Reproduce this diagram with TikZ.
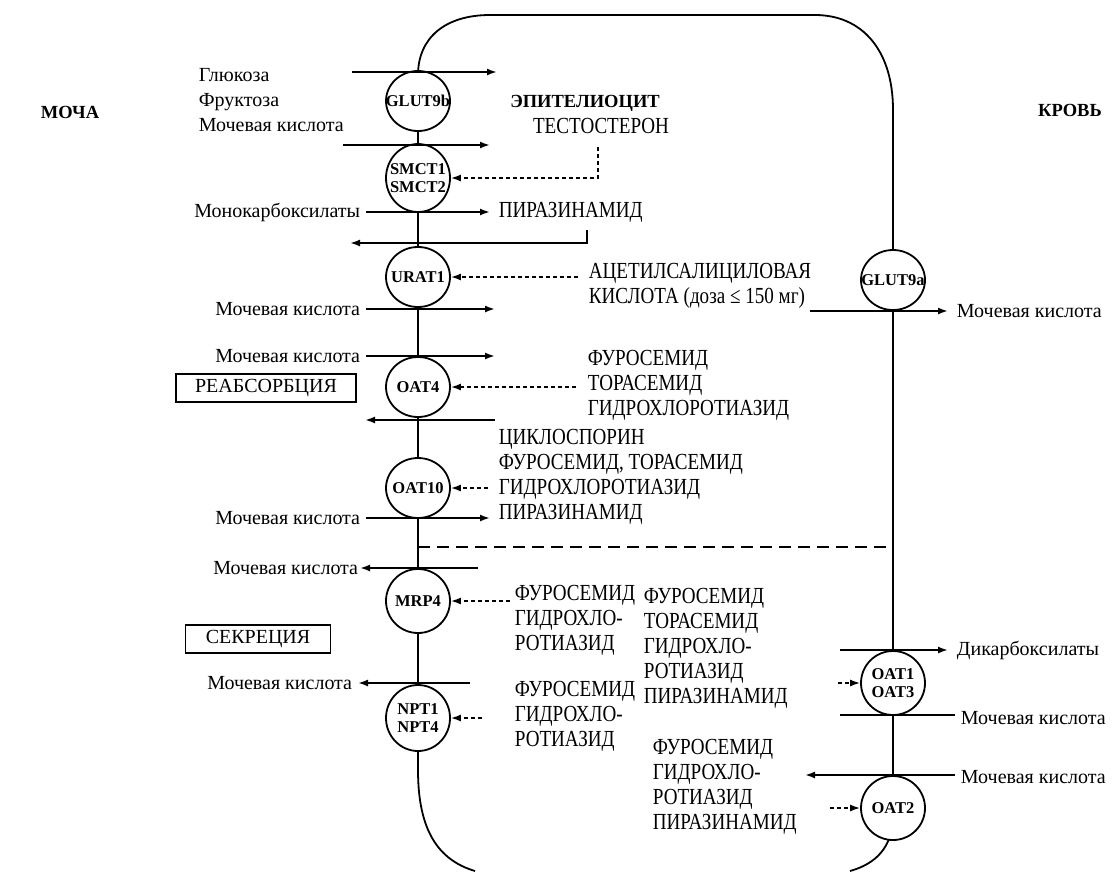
\documentclass[tikz,border=0pt]{standalone}
\usepackage{fontspec}
\setmainfont{Liberation Serif}
\newfontfamily\drugfont[FakeStretch=0.83]{Liberation Serif}
\usetikzlibrary{arrows.meta,positioning,shapes.geometric}

\begin{document}
\begin{tikzpicture}[x=1pt,y=-1pt,line width=1.8pt,>={Latex[length=10pt,width=7pt]},
		node distance=5pt,
		carrier/.style = {ellipse,draw,fill=white,inner sep=0pt,minimum width=64pt,minimum height=60pt,
			label={[font=\bfseries\fontsize{16.5}{18}\selectfont,align=center]center:{#1}}},
		flow/.style = {->},
		dash flow/.style = {->,line width=1.5pt,dash pattern=on 4pt off 3pt},
		small text/.style = {font=\fontsize{20}{25}\selectfont,inner sep=0pt},
		drug text/.style = {font=\drugfont\fontsize{23}{25}\selectfont,align=left,anchor=west,inner sep=0pt},
		side text/.style = {font=\bfseries\fontsize{18.5}{20}\selectfont},
		phase box/.style = {draw,line width=1.5pt,font=\fontsize{20}{22}\selectfont,minimum height=28pt}]
	
	\useasboundingbox (0,0) rectangle (1113,871);
	
	% cell outline
	\draw (475,871) .. controls (438,860) and (418,830) .. (418,770) -- (418,75)
	.. controls (418,38) and (445,15) .. (490,15) -- (815,15)
	.. controls (862,15) and (893,50) .. (893,110) -- (893,815)
	.. controls (893,848) and (875,864) .. (850,871);
	
	\node[side text] (urine) at (70,112) {МОЧА};
	\node[side text] (cell) at (585,103) {ЭПИТЕЛИОЦИТ};
	\node[side text] (blood) at (1070,110) {КРОВЬ};
	
	% carriers
	\node[carrier=GLUT9b] (glut9b) at (418,101) {};
	\node[carrier={SMCT1\\SMCT2},minimum height=68pt] (smct) at (418,178) {};
	\node[carrier=URAT1] (urat1) at (418,277) {};
	\node[carrier=OAT4] (oat4) at (418,387) {};
	\node[carrier=OAT10] (oat10) at (418,488) {};
	\node[carrier=MRP4,minimum height=64pt] (mrp4) at (418,601) {};
	\node[carrier={NPT1\\NPT4},minimum height=66pt] (npt) at (418,718) {};
	\node[carrier=GLUT9a] (glut9a) at (893,280) {};
	\node[carrier={OAT1\\OAT3},minimum height=64pt] (oat13) at (893,683) {};
	\node[carrier=OAT2,minimum height=64pt] (oat2) at (893,808) {};
	
	% reabsorption
	\coordinate (a1s) at (352,72);
	\coordinate (a1e) at (497,72);
	\node[small text,align=left,anchor=west] (sugars) at (198,100) {Глюкоза\\Фруктоза\\Мочевая кислота};
	\coordinate (a2s) at (343,145);
	\coordinate (a2e) at (490,145);
	\node[drug text,anchor=center] (testo) at (601,126) {ТЕСТОСТЕРОН};
	\coordinate (testo src) at (598,147);
	\coordinate (a3s) at (366,212);
	\coordinate (a3e) at (490,212);
	\node[small text,left=of a3s] (mono) {Монокарбоксилаты};
	\node[drug text,right=8pt of a3e] (pza1) {ПИРАЗИНАМИД};
	\coordinate (r1s) at (587,230);
	\coordinate (r1e) at (350,243);
	\coordinate (asa src) at (578,277);
	\node[drug text] (asa) at (588,286) {АЦЕТИЛСАЛИЦИЛОВАЯ\\КИСЛОТА (доза ≤ 150 мг)};
	\coordinate (a4s) at (366,309);
	\coordinate (a4e) at (495,309);
	\node[small text,left=of a4s] (ua1) {Мочевая кислота};
	\coordinate (a5s) at (366,356);
	\coordinate (a5e) at (495,356);
	\node[small text,left=of a5s] (ua2) {Мочевая кислота};
	\coordinate (oat4 src) at (576,387);
	\node[drug text] (diur1) at (587,385) {ФУРОСЕМИД\\ТОРАСЕМИД\\ГИДРОХЛОРОТИАЗИД};
	\node[phase box,minimum width=180pt] (reabs) at (266,388) {РЕАБСОРБЦИЯ};
	\coordinate (a6s) at (495,420);
	\coordinate (a6e) at (365,420);
	\coordinate (oat10 src) at (488,488);
	\node[drug text] (diur2) at (498,477) {ЦИКЛОСПОРИН\\ФУРОСЕМИД, ТОРАСЕМИД\\ГИДРОХЛОРОТИАЗИД\\ПИРАЗИНАМИД};
	\coordinate (a7s) at (366,518);
	\coordinate (a7e) at (490,518);
	\node[small text,left=of a7s] (ua3) {Мочевая кислота};
	
	% border between zones
	\coordinate (div1) at (418,547);
	\coordinate (div2) at (893,547);
	\draw[dash pattern=on 12pt off 7pt] (div1) -- (div2);
	
	% secretion
	\coordinate (a8s) at (478,568);
	\coordinate (a8e) at (360,568);
	\node[small text,left=1pt of a8e] (ua4) {Мочевая кислота};
	\coordinate (mrp4 src) at (510,601);
	\node[drug text] (diur3) at (514,620) {ФУРОСЕМИД\\ГИДРОХЛО-\\РОТИАЗИД};
	\node[phase box,minimum width=145pt] (secr) at (258,639) {СЕКРЕЦИЯ};
	\coordinate (a9s) at (470,683);
	\coordinate (a9e) at (358,683);
	\node[small text,left=of a9e] (ua5) {Мочевая кислота};
	\coordinate (npt src) at (482,718);
	\node[drug text] (diur4) at (514,716) {ФУРОСЕМИД\\ГИДРОХЛО-\\РОТИАЗИД};
	\node[drug text] (diur5) at (643,648) {ФУРОСЕМИД\\ТОРАСЕМИД\\ГИДРОХЛО-\\РОТИАЗИД\\ПИРАЗИНАМИД};
	
	% blood side
	\coordinate (b1s) at (810,311);
	\coordinate (b1e) at (948,311);
	\node[small text,right=8pt of b1e] (ua6) {Мочевая кислота};
	\coordinate (b2s) at (840,650);
	\coordinate (b2e) at (948,650);
	\node[small text,right=8pt of b2e] (dicarb) {Дикарбоксилаты};
	\coordinate (oat13 src) at (838,683);
	\coordinate (b3s) at (840,715);
	\coordinate (b3e) at (955,715);
	\node[small text,right=of b3e,yshift=-3pt] (ua7) {Мочевая кислота};
	\coordinate (b4s) at (955,775);
	\coordinate (b4e) at (805,775);
	\node[small text,right=of b4s,yshift=-2pt] (ua8) {Мочевая кислота};
	\coordinate (oat2 src) at (830,808);
	\node[drug text] (diur6) at (652,787) {ФУРОСЕМИД\\ГИДРОХЛО-\\РОТИАЗИД\\ПИРАЗИНАМИД};
	
	\path[flow]
	(a1s) edge (a1e)
	(a2s) edge (a2e)
	(a3s) edge (a3e)
	(r1s) edge[to path={|- (\tikztotarget)}] (r1e)
	(a4s) edge (a4e)
	(a5s) edge (a5e)
	(a6s) edge (a6e)
	(a7s) edge (a7e)
	(a8s) edge (a8e)
	(a9s) edge (a9e)
	(b1s) edge (b1e)
	(b2s) edge (b2e)
	(b4s) edge (b4e);
	\draw (b3s) -- (b3e);
	
	\path[dash flow]
	(testo src) edge[to path={|- (\tikztotarget)}] (smct.east)
	(asa src) edge (urat1.east)
	(oat4 src) edge (oat4.east)
	(oat10 src) edge (oat10.east)
	(mrp4 src) edge (mrp4.east)
	(npt src) edge (npt.east)
	(oat13 src) edge (oat13.west)
	(oat2 src) edge (oat2.west);
\end{tikzpicture}
\end{document}
